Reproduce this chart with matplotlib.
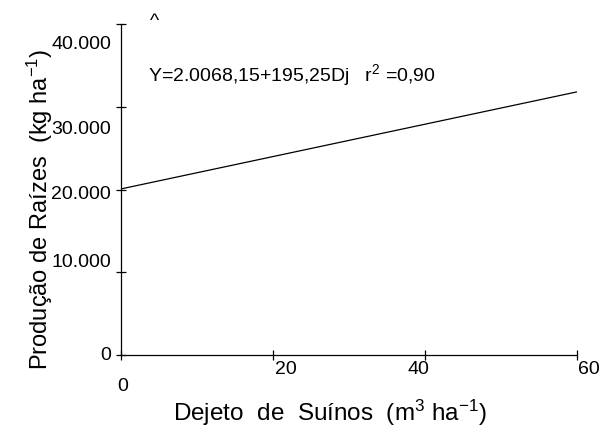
import matplotlib.pyplot as plt

plt.rcParams['font.family'] = ['Liberation Sans', 'DejaVu Sans']
plt.rcParams['mathtext.fontset'] = 'custom'
plt.rcParams['mathtext.rm'] = 'Liberation Sans'
plt.rcParams['mathtext.it'] = 'Liberation Sans'

# dados
dejeto = [0, 60]
producao = [20070, 31800]

x_ticks = [0, 20, 40, 60]
x_labels = ['0', '20', '40', '60']
y_ticks = [0, 10000, 20000, 30000, 40000]
y_labels = ['0', '10.000', '20.000', '30.000', '40.000']

fig = plt.figure(figsize=(6.03, 4.39), dpi=100)
ax = fig.add_axes([121 / 603, 83 / 439, 456 / 603, 331 / 439])

ax.plot(dejeto, producao, color='black', linewidth=0.9)

ax.set_xlim(0, 60)
ax.set_ylim(0, 40000)
for s in ['top', 'right']:
    ax.spines[s].set_visible(False)
for s in ['left', 'bottom']:
    ax.spines[s].set_linewidth(0.9)

ax.set_xticks(x_ticks)
ax.set_yticks(y_ticks)
ax.set_xticklabels([])
ax.set_yticklabels([])
ax.tick_params(direction='inout', length=7, width=0.9)

# rótulos dos ticks deslocados como no original (pixels)
x_off = [(2, -31, 'center'), (2, -14, 'left'), (-7, -14, 'center'), (1, -14, 'left')]
for xv, lab, (dx, dy, ha) in zip(x_ticks, x_labels, x_off):
    ax.annotate(lab, xy=(xv, 0), xycoords='data', xytext=(dx, dy),
                textcoords='offset pixels', ha=ha, va='center', fontsize=14,
                annotation_clip=False)

y_off = [0, 11, -4, -22, -20]
for yv, lab, dy in zip(y_ticks, y_labels, y_off):
    ax.annotate(lab, xy=(0, yv), xycoords='data', xytext=(-10, dy),
                textcoords='offset pixels', ha='right', va='center', fontsize=14,
                annotation_clip=False)

fig.text(40 / 603, 1 - 209 / 439, 'Produção de Raízes  (kg ha$^{-1}$)',
         rotation=90, ha='center', va='center', fontsize=17)
fig.text(330 / 603, 1 - 413 / 439, 'Dejeto  de  Suínos  (m$^3$ ha$^{-1}$)',
         ha='center', va='center', fontsize=17.5)

fig.text(150 / 603, 1 - 21 / 439, '^', ha='left', va='center', fontsize=14)
fig.text(148 / 603, 1 - 75 / 439, 'Y=2.0068,15+195,25Dj   r$^2$ =0,90',
         ha='left', va='center', fontsize=14)

fig.savefig('out.png', dpi=100)
